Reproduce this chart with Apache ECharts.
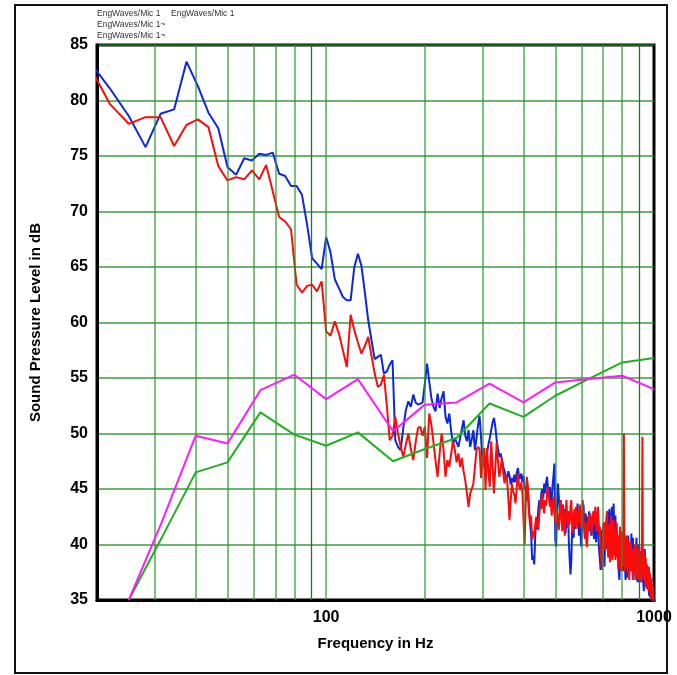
<!DOCTYPE html>
<html>
<head>
<meta charset="utf-8">
<title>Sound Pressure Level</title>
<script src="https://cdn.jsdelivr.net/npm/echarts@6.0.0/dist/echarts.min.js"></script>
<style>
  html, body { margin: 0; padding: 0; background: #fff; }
  #chart { width: 677px; height: 675px; }
</style>
</head>
<body>
<div id="chart"></div>
<script>
// narrow band spectra: one value per FFT bin, bin k sits at k * binHz
const binHz = 3.125;
const firstBin = 6;

// EngWaves/Mic 1 (blue)
const blueDb = [
  83.7, 81.1, 78.6, 75.8, 78.8, 79.2, 83.5, 81.3, 78.9, 77.5,
  74.0, 73.3, 74.8, 74.6, 75.2, 75.1, 75.3, 73.4, 73.2, 72.3,
  72.3, 71.5, 68.8, 65.8, 65.3, 64.8, 67.7, 66.3, 63.9, 63.1,
  62.3, 62.0, 62.0, 65.0, 66.2, 65.1, 62.7, 60.2, 58.4, 56.7,
  56.9, 57.1, 55.4, 55.6, 56.2, 56.6, 49.4, 48.8, 48.5, 50.5,
  52.1, 52.9, 52.4, 53.5, 52.8, 52.6, 52.7, 52.8, 54.5, 56.3,
  54.7, 53.2, 52.4, 52.0, 53.6, 52.3, 53.2, 53.8, 51.5, 50.9,
  51.8, 50.2, 49.0, 49.6, 49.2, 48.8, 49.6, 50.4, 51.2, 49.8,
  49.3, 50.3, 48.8, 49.5, 50.3, 48.5, 49.6, 50.8, 51.6, 49.6,
  47.3, 47.0, 47.6, 48.2, 49.0, 49.6, 50.3, 51.0, 51.4, 50.6,
  49.4, 48.6, 47.9, 48.2, 47.6, 47.0, 46.6, 46.1, 45.9, 46.6,
  46.2, 45.4, 46.0, 45.6, 46.3, 45.6, 46.4, 46.9, 46.2, 45.9,
  46.4, 45.6, 46.2, 45.0, 45.2, 44.0, 44.8, 43.2, 42.0, 40.9,
  38.6, 39.0, 38.2, 40.9, 42.0, 41.4, 43.2, 44.0, 43.2, 44.6,
  45.0, 44.2, 45.5, 44.6, 45.6, 46.1, 45.0, 44.3, 45.2, 43.8,
  44.0, 45.4, 46.2, 47.3, 40.4, 39.8, 43.6, 45.5, 44.2, 43.0,
  44.0, 42.5, 43.6, 42.0, 43.2, 41.8, 41.0, 42.6, 41.5, 43.0,
  40.2, 38.6, 37.3, 38.5, 41.2, 42.5, 40.6, 42.8, 41.4, 43.2,
  42.0, 43.7, 42.2, 40.8, 42.4, 41.0, 39.8, 41.5, 42.6, 43.6,
  42.0, 41.2, 42.8, 41.5, 40.6, 42.5, 41.8, 43.0, 41.5, 42.2,
  40.8, 41.9, 42.8, 41.2, 40.5, 42.0, 41.4, 40.2, 41.6, 40.8,
  41.5, 40.1, 39.2, 38.5, 37.7, 39.0, 41.3, 40.2, 41.8, 39.8,
  38.0, 40.5, 42.0, 39.6, 41.2, 43.0, 40.0, 41.5, 43.2, 40.6,
  39.2, 41.8, 43.4, 41.0, 42.6, 43.7, 41.5, 40.2, 42.6, 39.6,
  41.8, 39.4, 40.8, 38.6, 37.4, 36.8, 38.6, 40.6, 38.0, 39.6,
  41.0, 38.6, 37.6, 39.8, 40.6, 38.2, 36.8, 37.6, 40.0, 37.0,
  38.6, 40.8, 39.2, 37.6, 40.2, 37.6, 39.0, 41.0, 38.0, 38.8,
  40.6, 38.2, 37.4, 39.8, 38.4, 36.8, 39.4, 40.6, 37.8, 36.6,
  38.8, 37.0, 40.0, 36.6, 37.8, 39.4, 38.0, 36.6, 39.2, 37.4,
  39.4, 36.4, 35.8, 38.0, 39.6, 37.0, 38.4, 36.2, 38.0, 36.0,
  37.8, 36.0, 37.6, 35.4, 36.8, 35.2, 35.3, 36.8, 35.4, 36.4,
  35.0, 34.6, 36.0, 34.4, 34.8
];

// EngWaves/Mic 1 (red)
const redDb = [
  83.4, 79.7, 77.9, 78.5, 78.5, 75.9, 77.8, 78.3, 77.6, 74.1,
  72.8, 73.1, 72.9, 73.7, 72.9, 74.2, 71.8, 69.5, 69.1, 68.4,
  63.4, 62.7, 63.3, 63.4, 62.8, 63.7, 59.2, 58.8, 60.1, 59.0,
  57.5, 56.0, 60.7, 59.3, 58.2, 57.2, 57.9, 58.7, 57.0, 55.4,
  54.2, 54.4, 55.3, 52.5, 49.4, 49.8, 51.5, 50.0, 48.8, 47.9,
  49.0, 50.0, 48.6, 47.6, 49.2, 50.5, 50.6, 49.8, 50.6, 47.8,
  51.8, 50.8, 49.2, 47.5, 46.1, 48.2, 50.0, 48.5, 46.1, 47.6,
  47.0, 48.2, 49.3, 48.5, 47.4, 48.2, 47.0, 47.8, 46.6, 45.8,
  44.6, 43.4, 44.6, 45.0, 45.5, 47.0, 48.5, 48.8, 48.6, 46.0,
  47.5, 48.7, 44.9, 48.7, 46.5, 45.2, 49.3, 47.0, 44.6, 47.0,
  49.2, 47.4, 46.1, 46.9, 47.8, 46.4, 45.5, 46.2, 45.9, 44.2,
  42.2, 44.0, 45.5, 44.8, 44.5, 43.7, 45.0, 46.4, 45.4, 44.9,
  45.6, 44.6, 42.2, 40.0, 43.8, 46.1, 45.2, 43.0, 41.8, 42.6,
  40.4, 41.2, 40.7, 41.8, 42.5, 41.6, 41.3, 42.6, 44.0, 43.2,
  44.6, 43.6, 42.8, 44.0, 43.5, 44.6, 45.2, 44.2, 43.4, 44.0,
  42.6, 43.8, 44.3, 42.8, 41.9, 42.6, 43.2, 41.9, 41.3, 42.8,
  44.0, 42.5, 41.2, 43.6, 42.0, 40.8, 42.6, 44.0, 42.4, 41.5,
  43.0, 41.8, 43.4, 44.0, 42.2, 41.0, 42.6, 43.2, 41.6, 43.4,
  42.2, 41.4, 43.0, 42.0, 43.6, 42.4, 41.5, 42.8, 44.0, 42.6,
  41.2, 40.5, 42.0, 40.2, 39.8, 41.5, 42.6, 41.2, 42.8, 41.6,
  42.5, 41.0, 42.2, 43.0, 41.8, 42.6, 43.4, 42.0, 41.2, 42.4,
  43.4, 42.0, 40.8, 41.6, 39.5, 38.6, 37.7, 39.2, 40.8, 42.0,
  41.8, 39.4, 40.2, 42.4, 43.0, 40.2, 38.8, 41.8, 40.0, 38.4,
  41.0, 42.6, 39.6, 38.6, 41.4, 42.2, 39.0, 41.2, 38.6, 40.8,
  42.0, 38.8, 40.4, 37.8, 40.8, 38.8, 41.6, 38.4, 37.6, 40.2,
  41.2, 38.0, 40.2, 50.0, 40.0, 37.6, 39.8, 40.8, 37.8, 39.8,
  37.4, 40.4, 38.4, 36.8, 39.8, 37.8, 40.2, 37.6, 39.6, 38.0,
  36.8, 39.6, 37.6, 40.0, 37.4, 39.2, 36.8, 39.0, 40.0, 37.2,
  39.2, 36.8, 38.8, 39.8, 36.8, 38.6, 36.6, 39.2, 37.4, 49.7,
  38.0, 36.8, 39.4, 37.0, 38.8, 36.4, 38.8, 36.8, 36.0, 38.2,
  36.2, 37.8, 35.8, 38.0, 35.8, 37.4, 36.0, 35.2, 37.0, 35.2,
  36.4, 35.0, 36.2, 34.8, 34.6
];

// third octave bands
const thirdOctHz = [25, 31.5, 40, 50, 63, 80, 100, 125, 160, 200, 250, 315, 400, 500, 630, 800, 1000];
const pinkDb  = [35.0, 42.0, 49.8, 49.1, 53.9, 55.3, 53.1, 54.9, 50.2, 52.6, 52.8, 54.5, 52.8, 54.6, 54.9, 55.2, 54.0];
const greenDb = [35.0, 40.6, 46.5, 47.4, 51.9, 49.9, 48.9, 50.1, 47.5, 48.6, 49.6, 52.7, 51.5, 53.4, 54.9, 56.4, 56.8];

// vertical grid (Hz), the 90 / 900 lines are drawn darker
const gridHz = [30, 40, 50, 60, 70, 80, 100, 200, 300, 400, 500, 600, 700, 800];
const darkGridHz = [90, 900];
const xLabelHz = [100, 1000];

const legendLines = [
  { text: 'EngWaves/Mic 1', x: 97, y: 14 },
  { text: 'EngWaves/Mic 1', x: 171, y: 14 },
  { text: 'EngWaves/Mic 1~', x: 97, y: 25 },
  { text: 'EngWaves/Mic 1~', x: 97, y: 36 }
];

const FONT = 'Liberation Sans, Arial, sans-serif';

function toPts(vals) {
  return vals.map((v, i) => [(firstBin + i) * binHz, v]);
}

function pair(xs, ys) {
  return xs.map((f, i) => [f, ys[i]]);
}

const chart = echarts.init(document.getElementById('chart'), null, { renderer: 'canvas' });

const option = {
  animation: false,
  backgroundColor: '#fff',
  grid: {
    left: 97, right: 23, top: 45, bottom: 75,
    show: true, borderColor: '#000', borderWidth: 3, backgroundColor: 'transparent'
  },
  xAxis: {
    type: 'log', logBase: 10, min: 20, max: 1000,
    name: 'Frequency in Hz', nameLocation: 'middle', nameGap: 36,
    nameTextStyle: { fontFamily: FONT, fontWeight: 'bold', fontSize: 15, color: '#000' },
    axisLine: { show: true, lineStyle: { color: '#000', width: 3 } },
    axisTick: { show: false },
    splitLine: { show: false },
    axisLabel: {
      margin: 10, fontFamily: FONT, fontWeight: 'bold', fontSize: 16, color: '#000',
      showMinLabel: true, showMaxLabel: true,
      formatter: function (v) {
        for (const f of xLabelHz) {
          if (Math.abs(v - f) < 1e-6 * f) return String(f);
        }
        return '';
      }
    }
  },
  yAxis: {
    type: 'value', min: 35, max: 85, interval: 5,
    name: 'Sound Pressure Level in dB', nameLocation: 'middle', nameGap: 54, nameRotate: 90,
    nameTextStyle: { fontFamily: FONT, fontWeight: 'bold', fontSize: 15, color: '#000' },
    axisLine: { show: true, lineStyle: { color: '#000', width: 3 } },
    axisTick: { show: false },
    axisLabel: { margin: 9, fontFamily: FONT, fontWeight: 'bold', fontSize: 16, color: '#000' },
    splitLine: { show: true, lineStyle: { color: 'rgba(30,140,30,0.65)', width: 2 } }
  },
  graphic: [
    {
      type: 'rect', silent: true, z: 100,
      shape: { x: 15, y: 5, width: 652, height: 668 },
      style: { fill: 'none', stroke: '#111', lineWidth: 2 }
    }
  ].concat(legendLines.map(l => ({
    type: 'text', silent: true, left: l.x, top: l.y - 5,
    style: { text: l.text, fill: '#333', font: '8.5px ' + FONT }
  }))),
  series: [
    {
      // grid lines at the 1-2-3... frequencies
      type: 'line', data: [], silent: true, z: 1,
      markLine: {
        silent: true, symbol: 'none', animation: false,
        label: { show: false },
        lineStyle: { color: 'rgba(40,150,40,0.6)', width: 2, type: 'solid' },
        data: gridHz.map(f => ({ xAxis: f }))
          .concat(darkGridHz.map(f => ({ xAxis: f, lineStyle: { color: '#138013', width: 1.3, type: 'solid' } })))
      }
    },
    {
      name: 'EngWaves/Mic 1', type: 'line', data: toPts(blueDb),
      showSymbol: false, symbol: 'none', clip: true, z: 3,
      lineStyle: { color: '#0d26e0', width: 2 }
    },
    {
      name: 'EngWaves/Mic 1 ', type: 'line', data: toPts(redDb),
      showSymbol: false, symbol: 'none', clip: true, z: 4,
      lineStyle: { color: '#ff0a0a', width: 2 }
    },
    {
      name: 'EngWaves/Mic 1~', type: 'line', data: pair(thirdOctHz, greenDb),
      showSymbol: false, symbol: 'none', clip: true, z: 5,
      lineStyle: { color: '#1fb01f', width: 2 }
    },
    {
      name: 'EngWaves/Mic 1~ ', type: 'line', data: pair(thirdOctHz, pinkDb),
      showSymbol: false, symbol: 'none', clip: true, z: 6,
      lineStyle: { color: '#ff1aff', width: 2 }
    }
  ]
};

chart.setOption(option);
</script>
</body>
</html>
